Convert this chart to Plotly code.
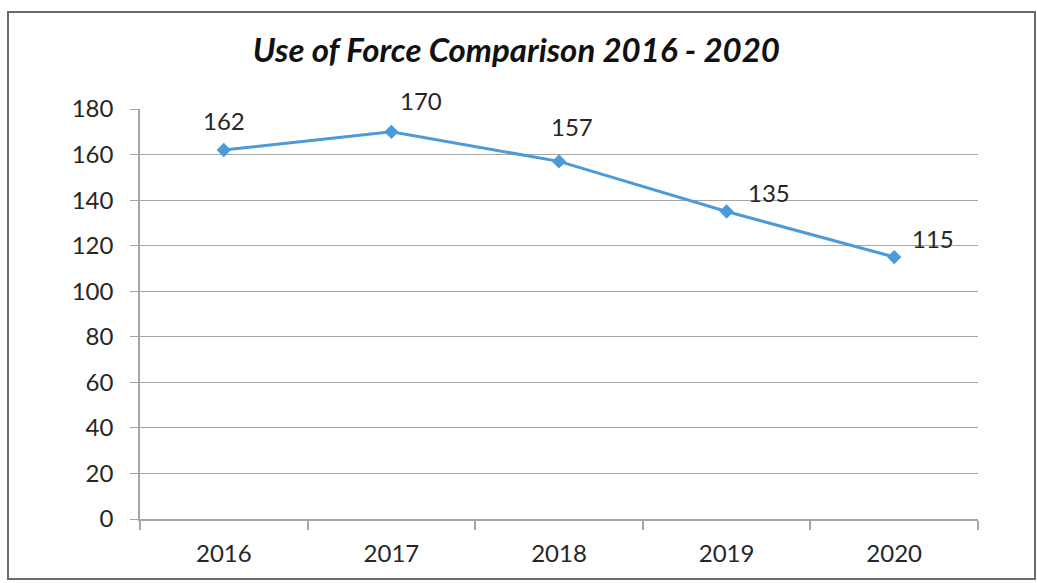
import plotly.graph_objects as go

# Yearly use-of-force counts
years = ["2016", "2017", "2018", "2019", "2020"]
counts = [162, 170, 157, 135, 115]
y_ticks = [0, 20, 40, 60, 80, 100, 120, 140, 160, 180]

# label offsets (pixels) relative to each point
label_dx = [0, 30, 13, 42, 39]
label_dy = [30, 31, 35, 19, 19]

FONT = "Lato, 'Open Sans', sans-serif"
LINE = "#4D9AD8"
TXT = "#262626"

fig = go.Figure()
fig.add_trace(go.Scatter(
    x=years, y=counts, mode="lines+markers",
    line=dict(color=LINE, width=3),
    marker=dict(symbol="diamond", size=11, color=LINE),
    hoverinfo="x+y", showlegend=False,
))

# value labels; category positions given by index along the axis
for i, (v, dx, dy) in enumerate(zip(counts, label_dx, label_dy)):
    fig.add_annotation(
        x=i, y=v, xref="x", yref="y", text=str(v), showarrow=False,
        xshift=dx, yshift=dy,
        font=dict(family=FONT, size=24, color=TXT),
    )

W, H = 1037, 583
L, R, T, B = 140, 59, 109, 64
pw, ph = W - L - R, H - T - B

def px_x(x):
    return (x - L) / pw

def px_y(y):
    return (H - B - y) / ph

# chart frame
fig.add_shape(
    type="rect", xref="paper", yref="paper",
    x0=px_x(8), x1=px_x(1035), y0=px_y(579), y1=px_y(12),
    line=dict(color="#6b6b6b", width=2), fillcolor="rgba(0,0,0,0)",
    layer="below",
)

fig.update_layout(
    width=W, height=H,
    margin=dict(l=L, r=R, t=T, b=B),
    paper_bgcolor="white", plot_bgcolor="white",
    title=dict(
        text="<b><i>Use of Force Comparison 2016 - 2020</i></b>",
        x=0.498, xref="container", xanchor="center",
        y=1 - 50 / H, yanchor="middle",
        font=dict(family=FONT, size=33, color="#111111"),
    ),
    font=dict(family=FONT, color=TXT),
)

fig.update_xaxes(
    type="category", tickson="boundaries",
    showgrid=False, showline=True, linecolor="#a6a6a6", linewidth=1.5,
    ticks="outside", ticklen=9, tickcolor="#a6a6a6", tickwidth=1.5,
    tickfont=dict(family=FONT, size=24, color=TXT),
    ticklabelstandoff=12,
    range=[-0.5, 4.5], zeroline=False,
)
fig.update_yaxes(
    range=[0, 180], tickvals=y_ticks,
    showgrid=True, gridcolor="#a6a6a6", gridwidth=1,
    showline=True, linecolor="#a6a6a6", linewidth=1.5,
    ticks="outside", ticklen=8, tickcolor="#a6a6a6",
    tickfont=dict(family=FONT, size=24, color=TXT),
    ticklabelstandoff=12, zeroline=False,
)

fig.write_html("out.html")
